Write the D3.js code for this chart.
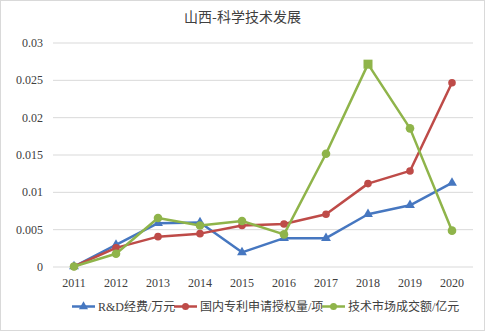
<!DOCTYPE html>
<html>
<head>
<meta charset="utf-8">
<script src="https://cdn.jsdelivr.net/npm/d3@7"></script>
<style>
  html, body { margin: 0; padding: 0; background: #fff; }
  svg { display: block; }
</style>
</head>
<body>
<div id="chart"></div>
<script>
// ── Data ──
const years = ["2011", "2012", "2013", "2014", "2015", "2016", "2017", "2018", "2019", "2020"];
const rdFunds = [0, 0.0029, 0.0058, 0.0059, 0.0019, 0.0038, 0.0038, 0.0070, 0.0082, 0.0112];
const patents = [0, 0.0025, 0.0040, 0.0044, 0.0055, 0.0057, 0.0070, 0.0111, 0.0128, 0.0246];
const techMarket = [0, 0.0017, 0.0065, 0.0055, 0.0061, 0.0043, 0.0151, 0.0271, 0.0185, 0.0048];
const yTicks = [0, 0.005, 0.01, 0.015, 0.02, 0.025, 0.03];
const yTickLabels = ["0", "0.005", "0.01", "0.015", "0.02", "0.025", "0.03"];
const seriesNames = ["R&D经费/万元", "国内专利申请授权量/项", "技术市场成交额/亿元"];

const C = { blue: "#4677c0", red: "#be4b48", green: "#8fb44a", grid: "#d9d9d9", text: "#404040" };
const SERIF = "'Liberation Serif', 'DejaVu Serif', 'Noto Sans CJK SC', serif";

const W = 485, H = 331;
const M = { t: 42.5, r: 12, b: 64.5, l: 53 };

const svg = d3.select("#chart").append("svg").attr("width", W).attr("height", H);

// outer border
svg.append("rect")
  .attr("x", 0.5).attr("y", 0.5)
  .attr("width", W - 1).attr("height", H - 1)
  .attr("fill", "#fff").attr("stroke", C.grid);

svg.append("text")
  .attr("x", W / 2).attr("y", 22)
  .attr("text-anchor", "middle")
  .attr("fill", C.text)
  .style("font-size", "14px")
  .style("font-family", "'Noto Sans CJK SC', sans-serif")
  .text("山西-科学技术发展");

const x = d3.scaleBand().domain(years).range([M.l, 473]);
const y = d3.scaleLinear().domain([0, 0.03]).range([H - M.b, M.t]);
const cx = (d) => x(d) + x.bandwidth() / 2;

// gridlines + y labels
const yAxis = d3.axisLeft(y).tickValues(yTicks)
  .tickFormat((d, i) => yTickLabels[i])
  .tickSize(-(473 - M.l)).tickPadding(10);

const yG = svg.append("g").attr("transform", `translate(${M.l},0)`).call(yAxis);
yG.select(".domain").remove();
yG.selectAll("line").attr("stroke", C.grid).attr("stroke-width", 1);
yG.selectAll("text").attr("fill", C.text)
  .style("font-size", "12px").style("font-family", SERIF);

const xAxis = d3.axisBottom(x).tickSize(0).tickPadding(12);
const xG = svg.append("g").attr("transform", `translate(0,${y(0)})`).call(xAxis);
xG.select(".domain").remove();
xG.selectAll("text").attr("fill", C.text)
  .style("font-size", "12px").style("font-family", SERIF);

// ── Series ──
const series = [
  { name: seriesNames[0], values: rdFunds, color: C.blue, marker: "triangle" },
  { name: seriesNames[1], values: patents, color: C.red, marker: "circle" },
  { name: seriesNames[2], values: techMarket, color: C.green, marker: "circle" },
];

const line = d3.line().x((d) => cx(d.yr)).y((d) => y(d.v));

function drawMarker(g, kind, px, py, color, size) {
  if (kind === "triangle") {
    g.append("path")
      .attr("d", d3.symbol().type(d3.symbolTriangle).size(size || 40)())
      .attr("transform", `translate(${px},${py})`)
      .attr("fill", color);
  } else if (kind === "square") {
    g.append("rect")
      .attr("x", px - 4.5).attr("y", py - 4.5)
      .attr("width", 9).attr("height", 9)
      .attr("fill", color);
  } else {
    g.append("circle").attr("cx", px).attr("cy", py).attr("r", size || 4).attr("fill", color);
  }
}

const lG = svg.append("g");
series.forEach((s) => {
  const pts = years.map((yr, i) => ({ yr, v: s.values[i] }));
  lG.append("path")
    .datum(pts)
    .attr("d", line)
    .attr("fill", "none")
    .attr("stroke", s.color)
    .attr("stroke-width", 2.5)
    .attr("stroke-linejoin", "round");
  pts.forEach((p) => {
    // the 2018 point of the green series is drawn as a square in the original
    const kind = s.color === C.green && p.yr === "2018" ? "square" : s.marker;
    drawMarker(lG, kind, cx(p.yr), y(p.v), s.color, s.color === C.green ? 4.3 : (s.marker === "circle" ? 3.8 : 42));
  });
});

// ── Legend ──
const legendY = 306.5;
const legendX = [72, 174, 322];
series.forEach((s, i) => {
  const g = svg.append("g").attr("transform", `translate(${legendX[i]},${legendY})`);
  g.append("line").attr("x1", 0).attr("x2", 23).attr("y1", 0).attr("y2", 0)
    .attr("stroke", s.color).attr("stroke-width", 2.5);
  drawMarker(g, s.marker, 11.5, 0, s.color, s.marker === "circle" ? 3.5 : 36);
  g.append("text").attr("x", 26).attr("y", 4.5)
    .attr("fill", C.text)
    .style("font-size", "12px")
    .style("font-family", SERIF)
    .text(s.name);
});
</script>
</body>
</html>
